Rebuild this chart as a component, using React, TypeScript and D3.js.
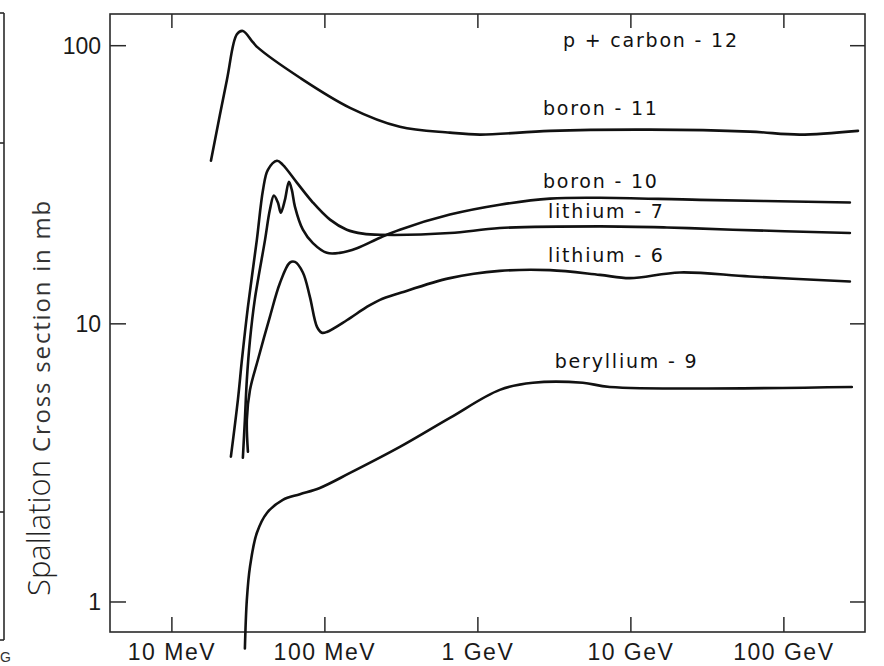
import * as d3 from "d3";

const WIDTH = 884;
const HEIGHT = 666;
const MARGIN = { top: 14, right: 19, bottom: 34, left: 110 };

// kinetic energy in MeV, cross section in mb (both log axes)
const xDomain = [3.94, 339000];
const yDomain = [0.78, 130];

const xTicks = [10, 100, 1000, 10000, 100000];
const xTickLabels = ["10 MeV", "100 MeV", "1 GeV", "10 GeV", "100 GeV"];
const yTicks = [1, 10, 100];
const yTickLabels = ["1", "10", "100"];

// [energy MeV, sigma mb]
const boron11 = [
  [18.0, 38.6], [22.9, 75.5], [26.6, 110], [29.1, 113], [33.8, 103],
  [36.5, 98.4], [68.7, 76.7], [146, 59.8], [309, 51.1], [656, 48.7],
  [1030, 47.9], [2960, 49.4], [13300, 49.9], [60000, 49.1], [127000, 47.9],
  [305000, 49.4],
];

const boron10 = [
  [29.1, 3.3], [30.0, 4.52], [30.9, 6.3], [32.4, 8.75], [34.8, 12.2],
  [40.6, 20.0], [43.7, 25.7], [46.4, 28.9], [49.3, 27.3], [51.5, 25.1],
  [54.8, 27.9], [58.2, 32.4], [60.8, 30.3], [63.7, 26.4], [71.8, 21.8],
  [83.5, 19.5], [103, 18.0], [125, 18.0], [162, 18.7], [229, 20.4],
  [309, 21.8], [656, 24.7], [1390, 26.8], [2960, 28.2], [6270, 28.4],
  [28200, 27.9], [270000, 27.3],
];

const lithium7 = [
  [24.3, 3.33], [27.0, 5.33], [28.7, 7.43], [31.4, 11.5], [35.9, 20.0],
  [39.4, 30.3], [42.4, 35.8], [48.6, 38.6], [53.1, 37.3], [65.6, 32.2],
  [83.5, 27.3], [108, 23.7], [139, 21.8], [177, 21.1], [229, 20.9],
  [656, 21.2], [1390, 22.1], [6270, 22.4], [17200, 22.2], [46400, 21.8],
  [270000, 21.2],
];

const lithium6 = [
  [31.4, 3.47], [30.9, 4.52], [32.4, 5.79], [36.5, 7.43], [43.7, 10.6],
  [50.8, 14.0], [59.0, 16.6], [63.7, 16.7], [71.8, 15.3], [79.8, 12.5],
  [88.8, 9.75], [95.5, 9.29], [103, 9.35], [139, 10.3], [188, 11.5],
  [229, 12.2], [309, 12.9], [656, 14.6], [1390, 15.5], [2960, 15.6],
  [6270, 15.0], [9840, 14.6], [20900, 15.3], [60000, 14.8], [270000, 14.2],
];

const beryllium9 = [
  [30.0, 0.68], [30.9, 1.02], [32.4, 1.34], [35.9, 1.77], [41.8, 2.09],
  [53.1, 2.33], [68.7, 2.44], [92.7, 2.57], [146, 2.91], [309, 3.61],
  [656, 4.59], [1390, 5.79], [2290, 6.14], [4850, 6.14], [7290, 5.93],
  [278000, 5.93],
];

const series = [
  { name: "boron - 11", points: boron11, labelAt: [2660, 56.5] },
  { name: "boron - 10", points: boron10, labelAt: [2660, 30.8] },
  { name: "lithium - 7", points: lithium7, labelAt: [2870, 24.0] },
  { name: "lithium - 6", points: lithium6, labelAt: [2870, 16.7] },
  { name: "beryllium - 9", points: beryllium9, labelAt: [3180, 6.95] },
];

const title = { text: "p + carbon - 12", at: [3600, 99] };

const LABEL_FONT = "'DejaVu Sans', sans-serif";
const TICK_FONT = "'Liberation Sans', Arial, sans-serif";

export default function App() {
  const left = MARGIN.left;
  const right = WIDTH - MARGIN.right;
  const top = MARGIN.top;
  const bottom = HEIGHT - MARGIN.bottom;

  const xScale = d3.scaleLog().domain(xDomain).range([left, right]);
  const yScale = d3.scaleLog().domain(yDomain).range([bottom, top]);

  const line = d3
    .line<number[]>()
    .x((d) => xScale(d[0]))
    .y((d) => yScale(d[1]))
    .curve(d3.curveCatmullRom.alpha(0.5));

  const frameColor = "#2a2a2a";

  return (
    <svg
      width={WIDTH}
      height={HEIGHT}
      style={{ position: "absolute", left: 0, top: 0, background: "#fff" }}
    >
      {/* edge of the neighbouring figure on the scanned page */}
      <g stroke={frameColor} strokeWidth={1.6}>
        <line x1={4} x2={4} y1={13} y2={640} />
        <line x1={0} x2={4} y1={13} y2={13} />
        <line x1={0} x2={4} y1={143} y2={143} />
        <line x1={0} x2={4} y1={512} y2={512} />
        <line x1={0} x2={4} y1={640} y2={640} />
      </g>
      <text x={0} y={662} fontFamily={TICK_FONT} fontSize={14} fill="#333">
        G
      </text>

      {/* frame */}
      <rect
        x={left}
        y={top}
        width={right - left}
        height={bottom - top}
        fill="none"
        stroke={frameColor}
        strokeWidth={1.6}
      />

      {/* x ticks, bottom and top */}
      {xTicks.map((t, i) => {
        const x = xScale(t);
        return (
          <g key={i}>
            <line x1={x} x2={x} y1={bottom} y2={bottom - 15} stroke={frameColor} strokeWidth={1.5} />
            <line x1={x} x2={x} y1={top} y2={top + 14} stroke={frameColor} strokeWidth={1.5} />
            <text
              x={x}
              y={bottom + 28}
              textAnchor="middle"
              fontFamily={TICK_FONT}
              fontSize={23}
              letterSpacing={1.5}
              fill="#1a1a1a"
            >
              {xTickLabels[i]}
            </text>
          </g>
        );
      })}

      {/* y ticks, left and right */}
      {yTicks.map((t, i) => {
        const y = yScale(t);
        return (
          <g key={i}>
            <line x1={left} x2={left + 16} y1={y} y2={y} stroke={frameColor} strokeWidth={1.5} />
            <line x1={right} x2={right - 15} y1={y} y2={y} stroke={frameColor} strokeWidth={1.5} />
            <text
              x={left - 9}
              y={y + 8}
              textAnchor="end"
              fontFamily={TICK_FONT}
              fontSize={23}
              fill="#1a1a1a"
            >
              {yTickLabels[i]}
            </text>
          </g>
        );
      })}

      {/* y axis title */}
      <text
        transform={`translate(50,596) rotate(-90)`}
        fontFamily="'Open Sans', sans-serif"
        fill="#222"
      >
        <tspan fontSize={31} fontWeight={300}>
          Spallation
        </tspan>
        <tspan fontSize={24} letterSpacing={1.8} dx={8} fill="#333">
          Cross section in mb
        </tspan>
      </text>

      {/* curves */}
      {series.map((s) => (
        <path
          key={s.name}
          d={line(s.points) ?? ""}
          fill="none"
          stroke="#111"
          strokeWidth={2.6}
          strokeLinecap="round"
          strokeLinejoin="round"
        />
      ))}

      {/* curve labels */}
      {series.map((s) => (
        <text
          key={s.name + "-label"}
          x={xScale(s.labelAt[0])}
          y={yScale(s.labelAt[1])}
          fontFamily={LABEL_FONT}
          fontSize={19}
          letterSpacing={1.8}
          fill="#111"
        >
          {s.name}
        </text>
      ))}
      <text
        x={xScale(title.at[0])}
        y={yScale(title.at[1])}
        fontFamily={LABEL_FONT}
        fontSize={19}
        letterSpacing={1.8}
        fill="#111"
      >
        {title.text}
      </text>
    </svg>
  );
}
